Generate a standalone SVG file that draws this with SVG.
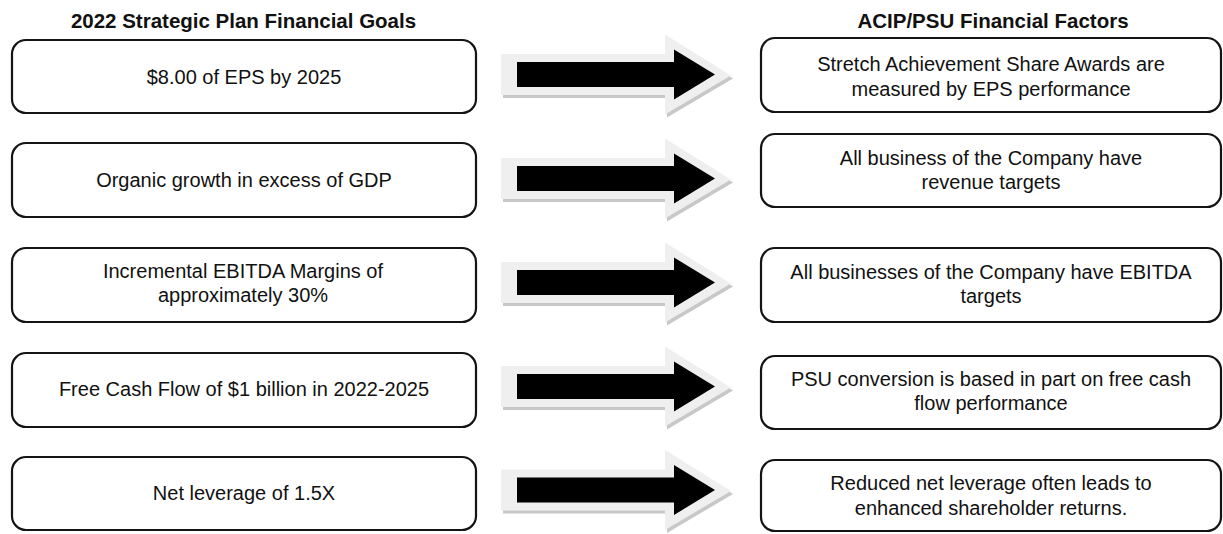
<svg xmlns="http://www.w3.org/2000/svg" xmlns:xlink="http://www.w3.org/1999/xlink" width="1223" height="534" viewBox="0 0 1223 534">
<style>
.box{fill:#fff;stroke:#141414;stroke-width:2.2}
.t{font-family:"Liberation Sans",Arial,sans-serif;font-size:20px;fill:#111;text-anchor:middle}
.h{font-family:"Liberation Sans",Arial,sans-serif;font-size:20.5px;font-weight:bold;fill:#111;text-anchor:middle}
.sh{fill:#c8c8c8}
.out{fill:#efefef}
.blk{fill:#000}
</style>
<defs>
<path id="outer" d="M501,-20.5 H665 V-40 L731,1 L665,40 V20.5 H501 Z"/>
<path id="inner" d="M517,-12.5 H674 V-25 L715,0 L674,25 V12.5 H517 Z"/>
<g id="arrow">
<use xlink:href="#outer" href="#outer" class="sh" transform="translate(2,3)"/>
<use xlink:href="#outer" href="#outer" class="out"/>
<use xlink:href="#inner" href="#inner" class="blk"/>
</g>
</defs>
<rect width="1223" height="534" fill="#fff"/>
<text class="h" x="243.5" y="28">2022 Strategic Plan Financial Goals</text>
<text class="h" x="993" y="28">ACIP/PSU Financial Factors</text>

<g id="connectors">
<use xlink:href="#arrow" href="#arrow" transform="translate(0,74.5)"/>
<use xlink:href="#arrow" href="#arrow" transform="translate(0,178.5)"/>
<use xlink:href="#arrow" href="#arrow" transform="translate(0,282.5)"/>
<use xlink:href="#arrow" href="#arrow" transform="translate(0,386.5)"/>
<use xlink:href="#arrow" href="#arrow" transform="translate(0,490)"/>
</g>

<g id="goal1"><rect class="box" x="12" y="40" width="464" height="73" rx="14"/><text class="t" x="244" y="84">$8.00 of EPS by 2025</text></g>
<g id="goal2"><rect class="box" x="12" y="143" width="464" height="74" rx="14"/><text class="t" x="244" y="187">Organic growth in excess of GDP</text></g>
<g id="goal3"><rect class="box" x="12" y="248" width="464" height="74" rx="14"/><text class="t" x="243" y="278">Incremental EBITDA Margins of</text><text class="t" x="243" y="302">approximately 30%</text></g>
<g id="goal4"><rect class="box" x="12" y="353" width="464" height="74" rx="14"/><text class="t" x="244" y="396">Free Cash Flow of $1 billion in 2022-2025</text></g>
<g id="goal5"><rect class="box" x="12" y="457" width="464" height="73" rx="14"/><text class="t" x="244" y="500">Net leverage of 1.5X</text></g>

<g id="factor1"><rect class="box" x="761" y="38" width="460" height="74" rx="14"/><text class="t" x="991" y="71">Stretch Achievement Share Awards are</text><text class="t" x="991" y="96">measured by EPS performance</text></g>
<g id="factor2"><rect class="box" x="761" y="134" width="460" height="73" rx="14"/><text class="t" x="991" y="165">All business of the Company have</text><text class="t" x="991" y="189">revenue targets</text></g>
<g id="factor3"><rect class="box" x="761" y="248" width="460" height="74" rx="14"/><text class="t" x="991" y="279">All businesses of the Company have EBITDA</text><text class="t" x="991" y="303">targets</text></g>
<g id="factor4"><rect class="box" x="761" y="356" width="460" height="73" rx="14"/><text class="t" x="991" y="386">PSU conversion is based in part on free cash</text><text class="t" x="991" y="410">flow performance</text></g>
<g id="factor5"><rect class="box" x="761" y="460" width="460" height="71" rx="14"/><text class="t" x="991" y="490">Reduced net leverage often leads to</text><text class="t" x="991" y="515">enhanced shareholder returns.</text></g>
</svg>
